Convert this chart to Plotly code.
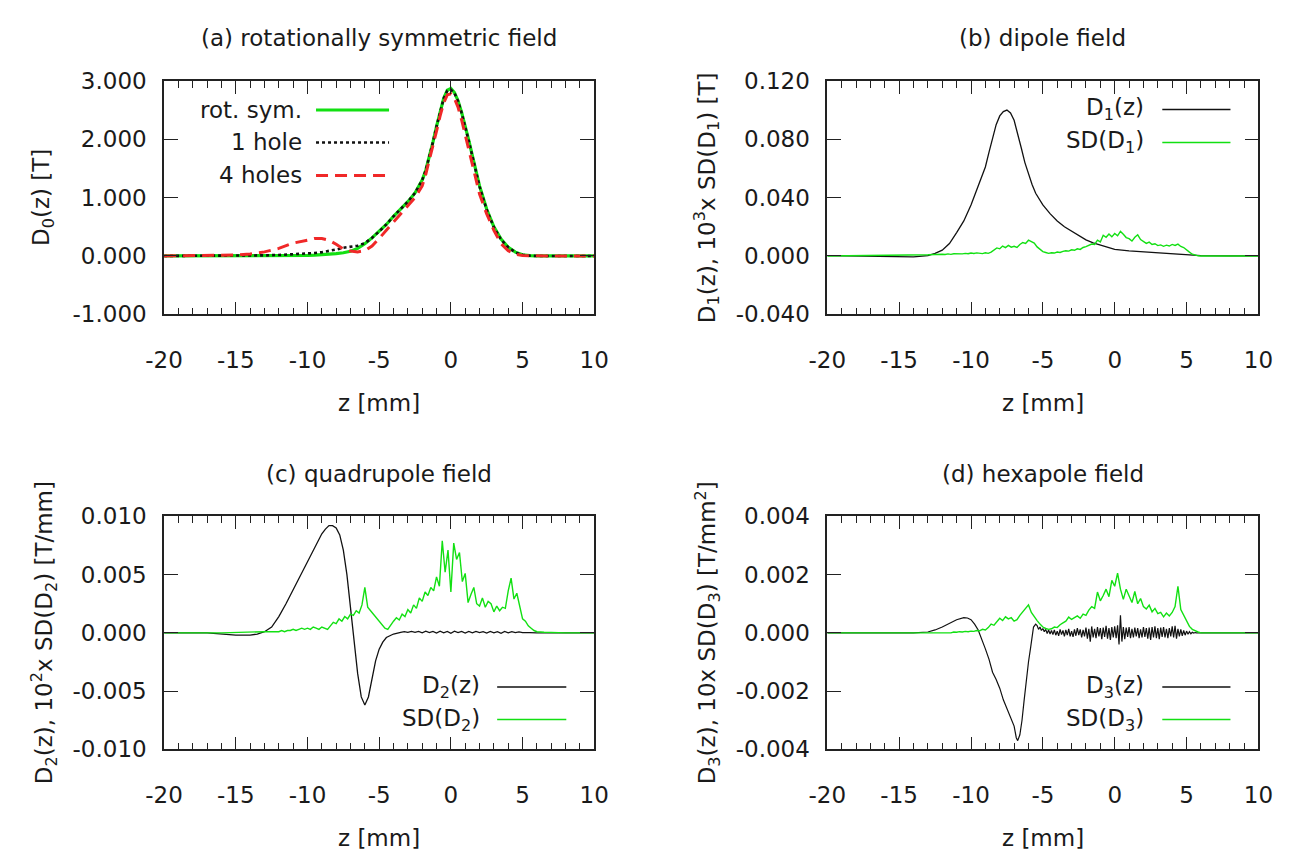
import numpy as np
import plotly.graph_objects as go

W, H = 1300, 861

# ---------------- data: panel (a) rotationally symmetric field ----------------
z_a = [-20, -17, -15, -14, -13, -12, -11, -10, -9.5, -9, -8.5, -8, -7.5, -7, -6.5, -6,
       -5.5, -5, -4.5, -4, -3.5, -3, -2.5, -2, -1.75, -1.5, -1.25, -1, -0.75, -0.5, -0.25,
       0, 0.25, 0.5, 0.75, 1, 1.25, 1.5, 1.75, 2, 2.5, 3, 3.5, 4, 4.5, 5, 5.5, 6, 8, 10]
rot_sym = [0, 0, 0, 0, 0, 0.002, 0.005, 0.01, 0.015, 0.02, 0.03, 0.04, 0.055, 0.08, 0.13, 0.21,
           0.31, 0.42, 0.54, 0.68, 0.80, 0.93, 1.08, 1.30, 1.47, 1.70, 1.95, 2.22, 2.48, 2.70, 2.84,
           2.87, 2.80, 2.66, 2.46, 2.24, 1.98, 1.72, 1.45, 1.20, 0.80, 0.50, 0.29, 0.15, 0.065, 0.02, 0.005, 0, 0, 0]
one_hole = [0, 0, 0.002, 0.005, 0.01, 0.017, 0.025, 0.04, 0.05, 0.065, 0.085, 0.11, 0.14, 0.16, 0.175, 0.22,
            0.31, 0.42, 0.54, 0.68, 0.80, 0.93, 1.08, 1.30, 1.47, 1.70, 1.95, 2.22, 2.48, 2.70, 2.83,
            2.85, 2.79, 2.65, 2.45, 2.23, 1.97, 1.71, 1.44, 1.19, 0.79, 0.49, 0.28, 0.15, 0.06, 0.02, 0.005, 0, 0, 0]
four_holes = [0, 0.003, 0.015, 0.035, 0.07, 0.13, 0.22, 0.27, 0.30, 0.30, 0.27, 0.20, 0.12, 0.085, 0.07, 0.09,
              0.17, 0.30, 0.44, 0.58, 0.72, 0.86, 1.00, 1.20, 1.40, 1.65, 1.88, 2.14, 2.40, 2.62, 2.76,
              2.78, 2.70, 2.55, 2.33, 2.08, 1.82, 1.55, 1.28, 1.06, 0.72, 0.44, 0.21, 0.09, 0.03, 0.008, 0.002, 0, 0, 0]

# common fine z grid for the noisy standard-deviation curves (-12 ... 6 mm, 0.2 mm step)
z_grid = np.round(np.linspace(-12, 6, 91), 1).tolist()

# ---------------- data: panel (b) dipole field ----------------
z_b = [-20, -17, -15, -14, -13, -12.5, -12, -11.5, -11, -10.5, -10, -9.5, -9, -8.75, -8.5, -8.25,
       -8, -7.75, -7.5, -7.25, -7, -6.75, -6.5, -6.25, -6, -5.75, -5.5, -5, -4.5, -4, -3.5, -3,
       -2.5, -2, -1.5, -1, 0, 1, 2, 3, 4, 5, 6, 8, 10]
d1 = [0.0003, 0.0, -0.0006, -0.0006, 0.0002, 0.0018, 0.004, 0.0085, 0.016, 0.024, 0.035, 0.048, 0.061,
      0.071, 0.081, 0.090, 0.096, 0.099, 0.100, 0.098, 0.093, 0.084, 0.074, 0.064, 0.056, 0.049, 0.043,
      0.035, 0.029, 0.024, 0.020, 0.017, 0.014, 0.011, 0.009, 0.0075, 0.0045, 0.0035, 0.0028, 0.0022,
      0.0013, 0.0005, 0.0002, 0, 0]
sd_d1_grid = [0.0012, 0.0010, 0.0014, 0.0011, 0.0015, 0.0013, 0.0016, 0.0014, 0.0018, 0.0015,
              0.0020, 0.0017, 0.0021, 0.0019, 0.0016, 0.0022, 0.0018, 0.0026, 0.0041, 0.0055,
              0.0049, 0.0068, 0.0057, 0.0072, 0.0060, 0.0066, 0.0058, 0.0079, 0.0092, 0.0086,
              0.0108, 0.0095, 0.0088, 0.0062, 0.0045, 0.0030, 0.0024, 0.0018, 0.0022, 0.0020,
              0.0027, 0.0024, 0.0031, 0.0036, 0.0033, 0.0042, 0.0039, 0.0049, 0.0045, 0.0058,
              0.0064, 0.0075, 0.0082, 0.0079, 0.0108, 0.0096, 0.0142, 0.0128, 0.0150, 0.0131,
              0.0154, 0.0138, 0.0168, 0.0149, 0.0126, 0.0119, 0.0102, 0.0128, 0.0145, 0.0112,
              0.0098, 0.0086, 0.0095, 0.0079, 0.0084, 0.0071, 0.0076, 0.0066, 0.0074, 0.0068,
              0.0079, 0.0072, 0.0081, 0.0065, 0.0058, 0.0045, 0.0026, 0.0012, 0.0004, 0.0001,
              0.0]
z_sd_b = [-20, -16, -13] + z_grid + [7, 10]
sd_d1 = [0.0, 0.0003, 0.0008] + sd_d1_grid + [0.0, 0.0]

# ---------------- data: panel (c) quadrupole field ----------------
z_c_main = [-20, -17, -15, -14, -13.5, -13, -12.5, -12, -11.5, -11, -10.5, -10, -9.5, -9, -8.75, -8.5,
            -8.25, -8, -7.75, -7.5, -7.25, -7, -6.75, -6.5, -6.25, -6, -5.75, -5.5, -5.25, -5, -4.75,
            -4.5, -4, -3.5]
d2_main = [0, 0, -0.0002, -0.0002, -0.0001, 0.0001, 0.0005, 0.0014, 0.0025, 0.0037,
           0.0050, 0.0062, 0.0074, 0.0085, 0.0089, 0.0092, 0.0092, 0.0090, 0.0084, 0.0071,
           0.0050, 0.0022, -0.0008, -0.0035, -0.0055, -0.0062, -0.0055, -0.0039, -0.0024, -0.0014,
           -0.0008, -0.0004, -0.0001, 0.00005]
z_c_tail = np.round(np.linspace(-3.25, 5.5, 36), 2).tolist()
d2_tail = [0.0001, 0.00005, 0.00012, 0.00004, 0.00012, 0.0, 0.00014, 0.00002, 0.00012, -0.00002,
           0.00014, 0.0, 0.00012, -0.00004, 0.00014, 0.00002, 0.00012, -0.00002, 0.00012, 0.0,
           0.00012, 0.00002, 0.0001, -0.00002, 0.00012, 0.0, 0.0001, -0.00004, 0.00012, 0.0,
           0.0001, 0.00002, 0.00008, 0.00002, 0.00004, 0.00002]
z_c = z_c_main + z_c_tail + [6, 8, 10]
d2 = d2_main + d2_tail + [0, 0, 0]
sd_d2_grid = [0.0001, 0.0002, 0.0001, 0.0002, 0.0002, 0.0003, 0.0002, 0.0003, 0.0004, 0.0003,
              0.0004, 0.0003, 0.0005, 0.0004, 0.0003, 0.0005, 0.0004, 0.0003, 0.0006, 0.0009,
              0.0008, 0.0012, 0.0010, 0.0014, 0.0012, 0.0016, 0.0015, 0.0019, 0.0017, 0.0024,
              0.0039, 0.0022, 0.0019, 0.0016, 0.0012, 0.0010, 0.0006, 0.0004, 0.0003, 0.0007,
              0.0010, 0.0013, 0.0011, 0.0016, 0.0014, 0.0020, 0.0017, 0.0024, 0.0021, 0.0030,
              0.0027, 0.0035, 0.0032, 0.0039, 0.0036, 0.0048, 0.0040, 0.0079, 0.0052, 0.0071,
              0.0035, 0.0077, 0.0063, 0.0069, 0.0044, 0.0051, 0.0026, 0.0033, 0.0039, 0.0025,
              0.0023, 0.0030, 0.0022, 0.0027, 0.0025, 0.0018, 0.0023, 0.0019, 0.0022, 0.0021,
              0.0036, 0.0047, 0.0029, 0.0034, 0.0022, 0.0012, 0.0010, 0.0006, 0.0004, 0.0002,
              0.0001]
z_sd_c = [-20, -16, -13] + z_grid + [6.5, 8, 10]
sd_d2 = [0.0, 0.0, 0.0001] + sd_d2_grid + [0.00005, 0.0, 0.0]

# ---------------- data: panel (d) hexapole field ----------------
z_d_smooth = [-20, -16, -14, -13, -12.5, -12, -11.5, -11, -10.5, -10.25, -10, -9.75, -9.5, -9.25, -9,
              -8.75, -8.5, -8.25, -8, -7.75, -7.5, -7.25, -7, -6.85, -6.75, -6.6, -6.45, -6.3, -6.15,
              -6, -5.85, -5.75, -5.65, -5.5]
d3_smooth = [0, 0, 0, 0.00003, 0.0001, 0.0002, 0.00032, 0.00045, 0.00052, 0.00051, 0.00045, 0.0003,
             0.0001, -0.0002, -0.00055, -0.0009, -0.00135, -0.0016, -0.0019, -0.0023, -0.0026, -0.0029,
             -0.0032, -0.0036, -0.0037, -0.0035, -0.0030, -0.0023, -0.0016, -0.0010, -0.0005, -0.0001,
             0.0002, 0.0003]
z_d_noise = np.round(np.linspace(-5.4, 5.8, 113), 1).tolist()
d3_noise = [0.00025, 0.00012, 0.00020, 0.00008, 0.00015, 0.00004, 0.00012, -0.00002, 0.00010, -0.00004,
            0.00008, -0.00006, 0.00010, -0.00008, 0.00006, -0.00010, 0.00012, -0.00006, 0.00008, -0.00012,
            0.00010, -0.00008, 0.00014, -0.00012, 0.00006, -0.00014, 0.00012, -0.00010, 0.00016, -0.00008,
            0.00012, -0.00016, 0.00010, -0.00012, 0.00018, -0.00020, 0.00014, -0.00030, 0.00022, -0.00016,
            0.00014, -0.00018, 0.00020, -0.00012, 0.00016, -0.00022, 0.00018, -0.00014, 0.00024, -0.00020,
            0.00016, -0.00024, 0.00020, -0.00016, 0.00022, -0.00018, 0.00026, -0.00040, 0.00060, -0.00030,
            0.00020, -0.00022, 0.00018, -0.00014, 0.00020, -0.00018, 0.00014, -0.00016, 0.00018, -0.00012,
            0.00016, -0.00018, 0.00012, -0.00016, 0.00020, -0.00014, 0.00016, -0.00020, 0.00018, -0.00024,
            0.00020, -0.00016, 0.00022, -0.00018, 0.00016, -0.00022, 0.00018, -0.00014, 0.00020, -0.00016,
            0.00014, -0.00018, 0.00016, -0.00012, 0.00022, -0.00016, 0.00024, -0.00020, 0.00014, -0.00012,
            0.00012, -0.00010, 0.00008, -0.00008, 0.00006, -0.00005, 0.00004, -0.00003, 0.00002, -0.00001,
            0.00001, 0.0, 0.0]
z_d = z_d_smooth + z_d_noise + [6.5, 8, 10]
d3 = d3_smooth + d3_noise + [0, 0, 0]
sd_d3_grid = [0.0, 0.0, 0.00002, 0.0, 0.00003, 0.00002, 0.00004, 0.00003, 0.00005, 0.00004,
              0.00006, 0.00005, 0.00008, 0.00007, 0.00012, 0.00010, 0.00018, 0.00030, 0.00026, 0.00040,
              0.00050, 0.00042, 0.00055, 0.00048, 0.00052, 0.00040, 0.00045, 0.00060, 0.00072, 0.00080,
              0.00096, 0.00070, 0.00055, 0.00042, 0.00030, 0.00020, 0.00015, 0.00012, 0.00014, 0.00020,
              0.00018, 0.00028, 0.00034, 0.00040, 0.00054, 0.00046, 0.00052, 0.00058, 0.00050, 0.00064,
              0.00060, 0.00078, 0.00090, 0.00084, 0.00140, 0.00110, 0.00128, 0.00150, 0.00124, 0.00180,
              0.00160, 0.00205, 0.00150, 0.00115, 0.00150, 0.00128, 0.00104, 0.00142, 0.00100, 0.00118,
              0.00090, 0.00082, 0.00095, 0.00072, 0.00084, 0.00066, 0.00070, 0.00055, 0.00068, 0.00058,
              0.00070, 0.00090, 0.00160, 0.00080, 0.00060, 0.00040, 0.00022, 0.00012, 0.00006, 0.00003,
              0.0]
z_sd_d = [-20, -16, -13] + z_grid + [7, 10]
sd_d3 = [0.0, 0.0, 0.0] + sd_d3_grid + [0.0, 0.0]

# ---------------- tick labels / text ----------------
x_tickvals = [-20, -15, -10, -5, 0, 5, 10]
x_ticktext = ["-20", "-15", "-10", "-5", "0", "5", "10"]
y_tickvals_a = [-1, 0, 1, 2, 3]
y_ticktext_a = ["-1.000", "0.000", "1.000", "2.000", "3.000"]
y_tickvals_b = [-0.04, 0, 0.04, 0.08, 0.12]
y_ticktext_b = ["-0.040", "0.000", "0.040", "0.080", "0.120"]
y_tickvals_c = [-0.01, -0.005, 0, 0.005, 0.01]
y_ticktext_c = ["-0.010", "-0.005", "0.000", "0.005", "0.010"]
y_tickvals_d = [-0.004, -0.002, 0, 0.002, 0.004]
y_ticktext_d = ["-0.004", "-0.002", "0.000", "0.002", "0.004"]

titles = ["(a) rotationally symmetric field", "(b) dipole field",
          "(c) quadrupole field", "(d) hexapole field"]
ytitles = ["D<sub>0</sub>(z) [T]",
           "D<sub>1</sub>(z), 10<sup>3</sup>x SD(D<sub>1</sub>) [T]",
           "D<sub>2</sub>(z), 10<sup>2</sup>x SD(D<sub>2</sub>) [T/mm]",
           "D<sub>3</sub>(z), 10x SD(D<sub>3</sub>) [T/mm<sup>2</sup>]"]
xtitle = "z [mm]"

assert len(rot_sym) == len(z_a) == len(one_hole) == len(four_holes)
assert len(d1) == len(z_b)
assert len(sd_d1) == len(z_sd_b) and len(sd_d2) == len(z_sd_c) and len(sd_d3) == len(z_sd_d)
assert len(d2) == len(z_c) and len(d3) == len(z_d)

# ---------------- styling ----------------
FONT = "DejaVu Sans, Verdana, sans-serif"
FS = 23
TXT = "#1a1a1a"
AX = "#222222"
GREEN = "#12e012"
RED = "#f02828"
BLACK = "#111111"

def px(x):
    return x / W

def py(y):
    return 1 - y / H

# plot-area boxes in pixels: (left, right, top, bottom)
boxes = [(149, 590.7, 70, 310.7), (830, 1272.7, 70, 310.7),
         (149, 590.7, 519, 759.3), (830, 1272.7, 519, 759.3)]
y_ranges = [(-1, 3), (-0.04, 0.12), (-0.01, 0.01), (-0.004, 0.004)]
y_ticks = [(y_tickvals_a, y_ticktext_a), (y_tickvals_b, y_ticktext_b),
           (y_tickvals_c, y_ticktext_c), (y_tickvals_d, y_ticktext_d)]

fig = go.Figure()

def add(x, y, k, color, width, dash="solid", name=None):
    sfx = "" if k == 0 else str(k + 1)
    fig.add_trace(go.Scatter(x=x, y=y, mode="lines", name=name, showlegend=False,
                             line=dict(color=color, width=width, dash=dash),
                             xaxis="x" + sfx, yaxis="y" + sfx, hoverinfo="skip"))

add(z_a, rot_sym, 0, GREEN, 3.2, "solid", "rot. sym.")
add(z_a, one_hole, 0, BLACK, 2.6, "3px,3px", "1 hole")
add(z_a, four_holes, 0, RED, 3.0, "12px,7px", "4 holes")
add(z_b, d1, 1, BLACK, 1.3, name="D1(z)")
add(z_sd_b, sd_d1, 1, GREEN, 1.4, name="SD(D1)")
add(z_c, d2, 2, BLACK, 1.3, name="D2(z)")
add(z_sd_c, sd_d2, 2, GREEN, 1.4, name="SD(D2)")
add(z_d, d3, 3, BLACK, 1.2, name="D3(z)")
add(z_sd_d, sd_d3, 3, GREEN, 1.4, name="SD(D3)")

layout = dict(width=W, height=H, margin=dict(l=0, r=0, t=0, b=0),
              paper_bgcolor="white", plot_bgcolor="white", showlegend=False,
              font=dict(family=FONT, size=FS, color=TXT))
annotations = []
shapes = []
for k, (l, r, t, b) in enumerate(boxes):
    sfx = "" if k == 0 else str(k + 1)
    layout["xaxis" + sfx] = dict(
        domain=[px(l), px(r)], range=[-20, 10], anchor="y" + sfx,
        tickmode="array", tickvals=x_tickvals, ticktext=x_ticktext,
        ticks="inside", ticklen=13, tickwidth=1.3, tickcolor=AX,
        minor=dict(tickmode="linear", tick0=0, dtick=1, ticks="inside", ticklen=7,
                   tickwidth=1.2, tickcolor=AX),
        showline=True, linecolor=AX, linewidth=1.6, mirror="allticks",
        showgrid=False, zeroline=False, ticklabelstandoff=24,
        tickfont=dict(family=FONT, size=FS, color=TXT), fixedrange=True)
    tv, tt = y_ticks[k]
    layout["yaxis" + sfx] = dict(
        domain=[py(b), py(t)], range=list(y_ranges[k]), anchor="x" + sfx,
        tickmode="array", tickvals=tv, ticktext=tt,
        ticks="inside", ticklen=14, tickwidth=1.3, tickcolor=AX,
        showline=True, linecolor=AX, linewidth=1.6, mirror="allticks",
        showgrid=False, zeroline=False, ticklabelstandoff=11,
        tickfont=dict(family=FONT, size=FS, color=TXT), fixedrange=True)
    cx = (l + r) / 2
    cy = (t + b) / 2
    annotations.append(dict(text=titles[k], x=px(cx), y=py(t - 44), xref="paper", yref="paper",
                            xanchor="center", yanchor="middle", showarrow=False,
                            font=dict(family=FONT, size=FS, color=TXT)))
    annotations.append(dict(text=xtitle, x=px(cx), y=py(b + 91), xref="paper", yref="paper",
                            xanchor="center", yanchor="middle", showarrow=False,
                            font=dict(family=FONT, size=FS, color=TXT)))
    ytx = [24, 706, 26, 707][k]
    annotations.append(dict(text=ytitles[k], x=px(ytx), y=py(cy), xref="paper", yref="paper",
                            xanchor="center", yanchor="middle", textangle=-90, showarrow=False,
                            font=dict(family=FONT, size=FS, color=TXT)))

# legends (gnuplot style: right-aligned label, sample line to the right)
legend_rows = [
    (293, 305, 380, [(100, "rot. sym.", GREEN, 3.2, "solid"),
                     (133.5, "1 hole", BLACK, 2.6, "3px,3px"),
                     (167.5, "4 holes", RED, 3.0, "12px,7px")]),
    (1157, 1174, 1244, [(99.5, "D<sub>1</sub>(z)", BLACK, 1.4, "solid"),
                        (133.5, "SD(D<sub>1</sub>)", GREEN, 1.6, "solid")]),
    (475, 491, 562, [(695, "D<sub>2</sub>(z)", BLACK, 1.4, "solid"),
                     (728.5, "SD(D<sub>2</sub>)", GREEN, 1.6, "solid")]),
    (1157, 1174, 1244, [(695, "D<sub>3</sub>(z)", BLACK, 1.4, "solid"),
                        (728.5, "SD(D<sub>3</sub>)", GREEN, 1.6, "solid")]),
]
for tx, lx0, lx1, rows in legend_rows:
    for (yy, label, col, wd, ds) in rows:
        annotations.append(dict(text=label, x=px(tx), y=py(yy), xref="paper", yref="paper",
                                xanchor="right", yanchor="middle", showarrow=False,
                                font=dict(family=FONT, size=FS, color=TXT)))
        shapes.append(dict(type="line", xref="paper", yref="paper",
                           x0=px(lx0), x1=px(lx1), y0=py(yy), y1=py(yy),
                           line=dict(color=col, width=wd, dash=ds)))

layout["annotations"] = annotations
layout["shapes"] = shapes
fig.update_layout(**layout)
fig.write_html("out.html", config={"displayModeBar": False},
               post_script="document.body.style.margin='0';document.body.style.overflow='hidden';")
